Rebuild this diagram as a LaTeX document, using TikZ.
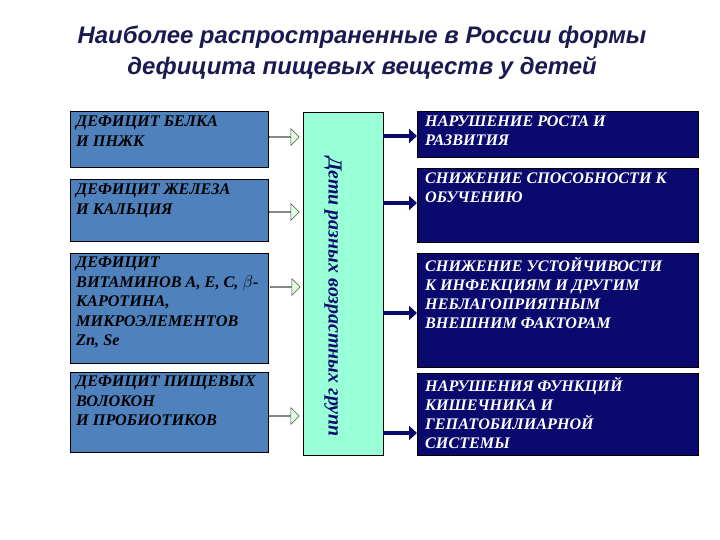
\documentclass[tikz,border=0pt]{standalone}
\usepackage{fontspec}
\setmainfont{Liberation Serif}
\newfontfamily\ttl{Liberation Sans}
\usetikzlibrary{shapes.arrows,arrows.meta}
\definecolor{lbox}{HTML}{4F81BD}
\definecolor{rbox}{HTML}{0A0A6E}
\definecolor{mbox}{HTML}{99FFD6}
\definecolor{ttlc}{HTML}{1A1A50}
\begin{document}
\begin{tikzpicture}[x=1bp,y=-1bp,
 lb/.style={draw=black,fill=lbox,line width=0.8bp},
 rb/.style={draw=black,fill=rbox,line width=0.8bp},
 lt/.style={anchor=north west,align=left,font=\fontsize{16.3}{19.5}\selectfont\bfseries\itshape,text=black,inner sep=0pt},
 rt/.style={anchor=north west,align=left,font=\fontsize{16.2}{19}\selectfont\bfseries\itshape,text=white,inner sep=0pt},
 blk/.style={single arrow,draw=black!70,fill=green!12,minimum height=30bp,minimum width=17bp,single arrow head extend=4bp,inner sep=0pt,line width=0.5bp},
 ra/.style={draw=rbox,line width=4bp,-{Triangle[length=8bp,width=14bp]}}]
\useasboundingbox (0,0) rectangle (720,540);
\node[font=\ttl\fontsize{24}{31}\selectfont\bfseries\itshape,text=ttlc,align=center] (title) at (362,53) {Наиболее распространенные в России формы\\дефицита пищевых веществ у детей};
% left boxes
\draw[lb] (70,111) rectangle (268,167); \node[lt] (l1) at (76,116) {ДЕФИЦИТ БЕЛКА\\И ПНЖК};
\draw[lb] (70,179) rectangle (268,241); \node[lt] (l2) at (76,184) {ДЕФИЦИТ ЖЕЛЕЗА\\И КАЛЬЦИЯ};
\draw[lb] (70,253) rectangle (268,363); \node[lt] (l3) at (76,257) {ДЕФИЦИТ\\ВИТАМИНОВ А, Е, С, $\beta$-\\КАРОТИНА,\\МИКРОЭЛЕМЕНТОВ\\Zn, Se};
\draw[lb] (70,372) rectangle (268,452); \node[lt] (l4) at (76,376) {ДЕФИЦИТ ПИЩЕВЫХ\\ВОЛОКОН\\И ПРОБИОТИКОВ};
% middle
\draw[fill=mbox,draw=black,line width=0.8bp] (303,112) rectangle (383,455);
\node[rotate=-90,font=\fontsize{20}{24}\selectfont\bfseries\itshape,text=rbox] (mid) at (333,297) {Дети разных возрастных групп};
% right boxes
\draw[rb] (417,111) rectangle (698,157); \node[rt] (r1) at (425,116) {НАРУШЕНИЕ РОСТА И\\РАЗВИТИЯ};
\draw[rb] (417,168) rectangle (698,242); \node[rt] (r2) at (425,173) {СНИЖЕНИЕ СПОСОБНОСТИ К\\ОБУЧЕНИЮ};
\draw[rb] (417,253) rectangle (698,367); \node[rt] (r3) at (425,257) {СНИЖЕНИЕ УСТОЙЧИВОСТИ\\К ИНФЕКЦИЯМ И ДРУГИМ\\НЕБЛАГОПРИЯТНЫМ\\ВНЕШНИМ ФАКТОРАМ};
\draw[rb] (417,373) rectangle (698,455); \node[rt] (r4) at (425,377) {НАРУШЕНИЯ ФУНКЦИЙ\\КИШЕЧНИКА И\\ГЕПАТОБИЛИАРНОЙ\\СИСТЕМЫ};
% arrows
\node[blk] (a1) at (284,137) {}; \node[blk] (a2) at (284,212) {};
\node[blk] (a3) at (285,287) {}; \node[blk] (a4) at (284,416) {};
\coordinate (s1) at (383,136); \coordinate (e1) at (417,136);
\coordinate (s2) at (383,203); \coordinate (e2) at (417,203);
\coordinate (s3) at (383,313); \coordinate (e3) at (417,313);
\coordinate (s4) at (383,433); \coordinate (e4) at (417,433);
\draw[ra] (s1)--(e1); \draw[ra] (s2)--(e2); \draw[ra] (s3)--(e3); \draw[ra] (s4)--(e4);
\end{tikzpicture}
\end{document}
